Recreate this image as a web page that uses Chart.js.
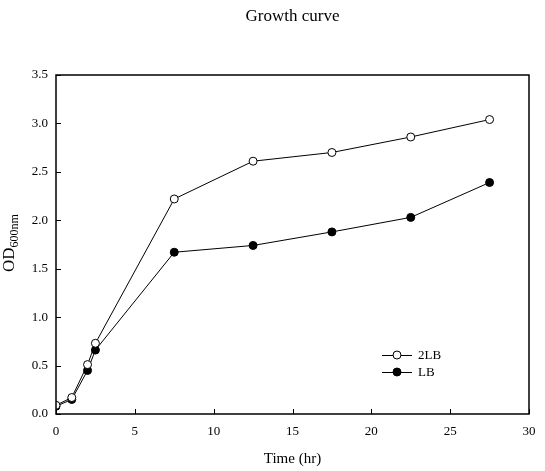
<!DOCTYPE html>
<html>
<head>
<meta charset="utf-8">
<script src="https://cdn.jsdelivr.net/npm/chart.js@4.4.0/dist/chart.umd.min.js"></script>
<style>
  html, body { margin: 0; padding: 0; background: #fff; }
  #wrap { width: 545px; height: 471px; }
</style>
</head>
<body>
<div id="wrap"><canvas id="growth"></canvas></div>
<script>
// time points (hr)
const hours = [0, 1, 2, 2.5, 7.5, 12.5, 17.5, 22.5, 27.5];
// OD600 readings
const od2LB = [0.09, 0.17, 0.51, 0.73, 2.22, 2.61, 2.70, 2.86, 3.04];
const odLB  = [0.08, 0.15, 0.45, 0.66, 1.67, 1.74, 1.88, 2.03, 2.39];
const xTicks = [0, 5, 10, 15, 20, 25, 30];
const yTicks = [0, 0.5, 1, 1.5, 2, 2.5, 3, 3.5];

const serif = '"Liberation Serif", "Times New Roman", serif';
const toPoints = ys => hours.map((h, i) => ({ x: h, y: ys[i] }));

// box, inward ticks, titles and legend
const decor = {
  id: 'decor',
  afterDraw(chart) {
    const { ctx, chartArea: a, scales } = chart;
    ctx.save();
    ctx.strokeStyle = '#000';
    ctx.lineWidth = 1.5;
    ctx.strokeRect(a.left, a.top, a.right - a.left, a.bottom - a.top);

    ctx.lineWidth = 1;
    ctx.beginPath();
    xTicks.forEach(v => {
      const x = Math.round(scales.x.getPixelForValue(v)) + 0.5;
      ctx.moveTo(x, a.bottom); ctx.lineTo(x, a.bottom - 5);
    });
    yTicks.forEach(v => {
      const y = Math.round(scales.y.getPixelForValue(v)) + 0.5;
      ctx.moveTo(a.left, y); ctx.lineTo(a.left + 5, y);
    });
    ctx.stroke();

    ctx.fillStyle = '#000';
    ctx.textAlign = 'center';
    ctx.textBaseline = 'middle';
    ctx.font = '17px ' + serif;
    ctx.fillText('Growth curve', (a.left + a.right) / 2, 17);
    ctx.font = '15px ' + serif;
    ctx.fillText('Time (hr)', (a.left + a.right) / 2, 459);

    // y title with subscript
    ctx.save();
    ctx.translate(10, 243);
    ctx.rotate(-Math.PI / 2);
    ctx.textAlign = 'left';
    ctx.font = '17px ' + serif;
    const w1 = ctx.measureText('OD').width;
    ctx.font = '12px ' + serif;
    const w2 = ctx.measureText('600nm').width;
    const start = -(w1 + w2) / 2;
    ctx.font = '17px ' + serif;
    ctx.fillText('OD', start, 0);
    ctx.font = '12px ' + serif;
    ctx.fillText('600nm', start + w1, 5);
    ctx.restore();

    // legend
    ctx.font = '13px ' + serif;
    ctx.textAlign = 'left';
    chart.data.datasets.forEach((ds, i) => {
      const y = 355 + i * 17;
      ctx.beginPath();
      ctx.moveTo(382, y + 0.5); ctx.lineTo(412, y + 0.5);
      ctx.lineWidth = 1;
      ctx.strokeStyle = '#000';
      ctx.stroke();
      ctx.beginPath();
      ctx.arc(397, y, 4, 0, Math.PI * 2);
      ctx.fillStyle = ds.pointBackgroundColor;
      ctx.fill();
      ctx.stroke();
      ctx.fillStyle = '#000';
      ctx.fillText(ds.label, 418, y + 1);
    });
    ctx.restore();
  }
};

new Chart(document.getElementById('growth'), {
  type: 'scatter',
  data: {
    datasets: [
      {
        label: '2LB',
        data: toPoints(od2LB),
        showLine: true,
        borderColor: '#000',
        borderWidth: 1,
        pointBackgroundColor: '#fff',
        pointBorderColor: '#000',
        pointBorderWidth: 1,
        pointRadius: 4
      },
      {
        label: 'LB',
        data: toPoints(odLB),
        showLine: true,
        borderColor: '#000',
        borderWidth: 1,
        pointBackgroundColor: '#000',
        pointBorderColor: '#000',
        pointBorderWidth: 1,
        pointRadius: 4
      }
    ]
  },
  options: {
    responsive: true,
    maintainAspectRatio: false,
    animation: false,
    layout: { padding: { top: 75, right: 16, left: 0, bottom: 0 } },
    plugins: { legend: { display: false }, tooltip: { enabled: false } },
    scales: {
      x: {
        type: 'linear',
        min: 0, max: 30,
        afterFit: s => { s.height = 57; },
        afterBuildTicks: s => { s.ticks = xTicks.map(v => ({ value: v })); },
        grid: { display: false },
        border: { display: false },
        ticks: { color: '#000', padding: 2, font: { family: serif, size: 13 } }
      },
      y: {
        min: 0, max: 3.5,
        afterFit: s => { s.width = 56; },
        afterBuildTicks: s => { s.ticks = yTicks.map(v => ({ value: v })); },
        grid: { display: false },
        border: { display: false },
        ticks: {
          color: '#000', padding: 0, font: { family: serif, size: 13 },
          callback: v => v.toFixed(1)
        }
      }
    }
  },
  plugins: [decor]
});
</script>
</body>
</html>
